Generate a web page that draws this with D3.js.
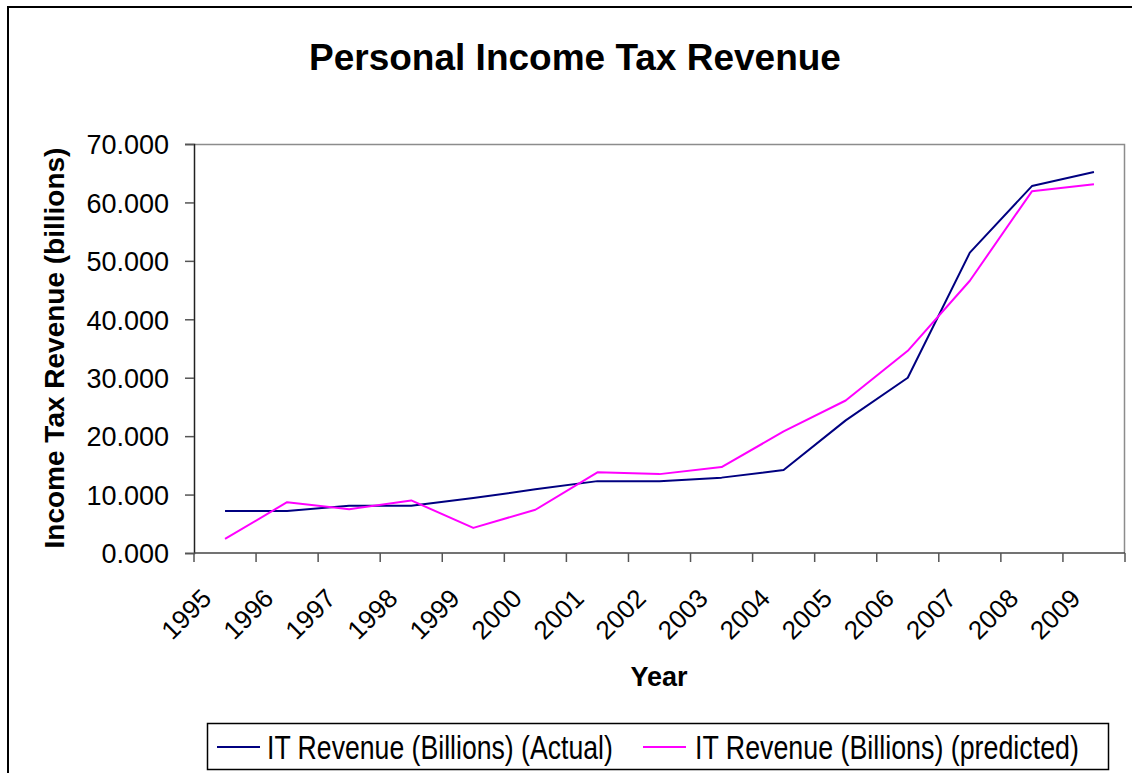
<!DOCTYPE html>
<html>
<head>
<meta charset="utf-8">
<title>Personal Income Tax Revenue</title>
<script src="https://cdn.jsdelivr.net/npm/d3@7"></script>
<style>
  body { margin: 0; background: #fff; }
  svg { font-family: "Liberation Sans", Arial, sans-serif; }
  .tick text { fill: #000; }
</style>
</head>
<body>
<div id="chart"></div>
<script>
var years = ["1995","1996","1997","1998","1999","2000","2001","2002","2003","2004","2005","2006","2007","2008","2009"];
var actual = [7.2, 7.2, 8.1, 8.1, 9.4, 10.9, 12.3, 12.3, 12.9, 14.2, 22.7, 30.0, 51.4, 62.8, 65.2];
var predicted = [2.4, 8.7, 7.5, 9.0, 4.3, 7.4, 13.8, 13.5, 14.7, 20.8, 26.1, 34.6, 46.6, 61.9, 63.1];
var yTicks = [0, 10, 20, 30, 40, 50, 60, 70];
var seriesNames = ["IT Revenue (Billions) (Actual)", "IT Revenue (Billions) (predicted)"];
var seriesColors = ["#000080", "#ff00ff"];

var W = 1132, H = 773;
var margin = {top: 144, right: 7, bottom: 220, left: 194};
var width = W - margin.left - margin.right,
    height = H - margin.top - margin.bottom;

var svg = d3.select("#chart").append("svg")
    .attr("width", W)
    .attr("height", H);

// outer frame (runs past the right and bottom edges)
svg.append("path")
    .attr("d", "M8," + H + "V7H" + W)
    .attr("fill", "none")
    .attr("stroke", "#000")
    .attr("stroke-width", 2);

svg.append("text")
    .attr("x", 575)
    .attr("y", 70)
    .attr("text-anchor", "middle")
    .style("font-size", "37px")
    .style("font-weight", "bold")
    .text("Personal Income Tax Revenue");

var g = svg.append("g")
    .attr("transform", "translate(" + margin.left + "," + margin.top + ")");

var x = d3.scaleBand().domain(years).range([0, width]);
var y = d3.scaleLinear().domain([0, 70]).range([height, 0]);

// plot area border (top / right)
g.append("path")
    .attr("d", "M0,0.5H" + (width - 0.5) + "V" + height)
    .attr("fill", "none")
    .attr("stroke", "#8c8c8c")
    .attr("stroke-width", 1.5);

var yAxis = g.append("g")
    .call(d3.axisLeft(y).tickValues(yTicks).tickSize(9).tickPadding(16)
      .tickFormat(d3.format(".3f")));
yAxis.select(".domain").attr("stroke", "#222").attr("stroke-width", 1.5);
yAxis.selectAll(".tick line").attr("stroke", "#555").attr("stroke-width", 1.5);
yAxis.selectAll(".tick text").style("font-size", "27px").attr("dy", "0.36em");

// x axis: ticks at category boundaries
var xAxis = g.append("g")
    .attr("transform", "translate(0," + height + ")");
xAxis.append("line")
    .attr("x1", 0).attr("x2", width)
    .attr("stroke", "#444").attr("stroke-width", 1.5);
xAxis.selectAll(".bt")
    .data(years.concat(["end"]))
    .enter().append("line")
    .attr("class", "bt")
    .attr("x1", function(d, i) { return i < years.length ? x(d) : width; })
    .attr("x2", function(d, i) { return i < years.length ? x(d) : width; })
    .attr("y1", 0).attr("y2", 9)
    .attr("stroke", "#555").attr("stroke-width", 1.5);
xAxis.selectAll(".yl")
    .data(years)
    .enter().append("text")
    .attr("class", "yl")
    .attr("text-anchor", "end")
    .attr("transform", function(d) {
      return "translate(" + (x(d) + x.bandwidth() / 2 - 12) + ",47) rotate(-45)";
    })
    .style("font-size", "26px")
    .text(function(d) { return d; });

g.append("text")
    .attr("x", 465)
    .attr("y", 542)
    .attr("text-anchor", "middle")
    .style("font-size", "27px")
    .style("font-weight", "bold")
    .text("Year");

svg.append("text")
    .attr("transform", "translate(64,348) rotate(-90)")
    .attr("text-anchor", "middle")
    .style("font-size", "28px")
    .style("font-weight", "bold")
    .text("Income Tax Revenue (billions)");

var line = d3.line()
    .x(function(d, i) { return x(years[i]) + x.bandwidth() / 2; })
    .y(function(d) { return y(d); });

[actual, predicted].forEach(function(s, k) {
  g.append("path")
      .datum(s)
      .attr("fill", "none")
      .attr("stroke", seriesColors[k])
      .attr("stroke-width", 2)
      .attr("stroke-linejoin", "round")
      .attr("d", line);
});

// legend
var legend = svg.append("g");
legend.append("rect")
    .attr("x", 207.5).attr("y", 723.5)
    .attr("width", 901).attr("height", 46)
    .attr("fill", "#fff")
    .attr("stroke", "#000")
    .attr("stroke-width", 1.5);

// legend text is drawn narrow, as in the original
var legX = [217, 643], legTextX = [267, 695], legLen = [346, 384];
seriesNames.forEach(function(name, k) {
  legend.append("line")
      .attr("x1", legX[k]).attr("x2", legX[k] + 43)
      .attr("y1", 747).attr("y2", 747)
      .attr("stroke", seriesColors[k])
      .attr("stroke-width", 2);
  var tg = legend.append("g");
  var t = tg.append("text")
      .attr("x", 0)
      .attr("y", 0)
      .style("font-size", "34px")
      .text(name);
  var sx = legLen[k] / t.node().getComputedTextLength();
  tg.attr("transform", "translate(" + legTextX[k] + ",759) scale(" + sx + ",1)");
});
</script>
</body>
</html>
